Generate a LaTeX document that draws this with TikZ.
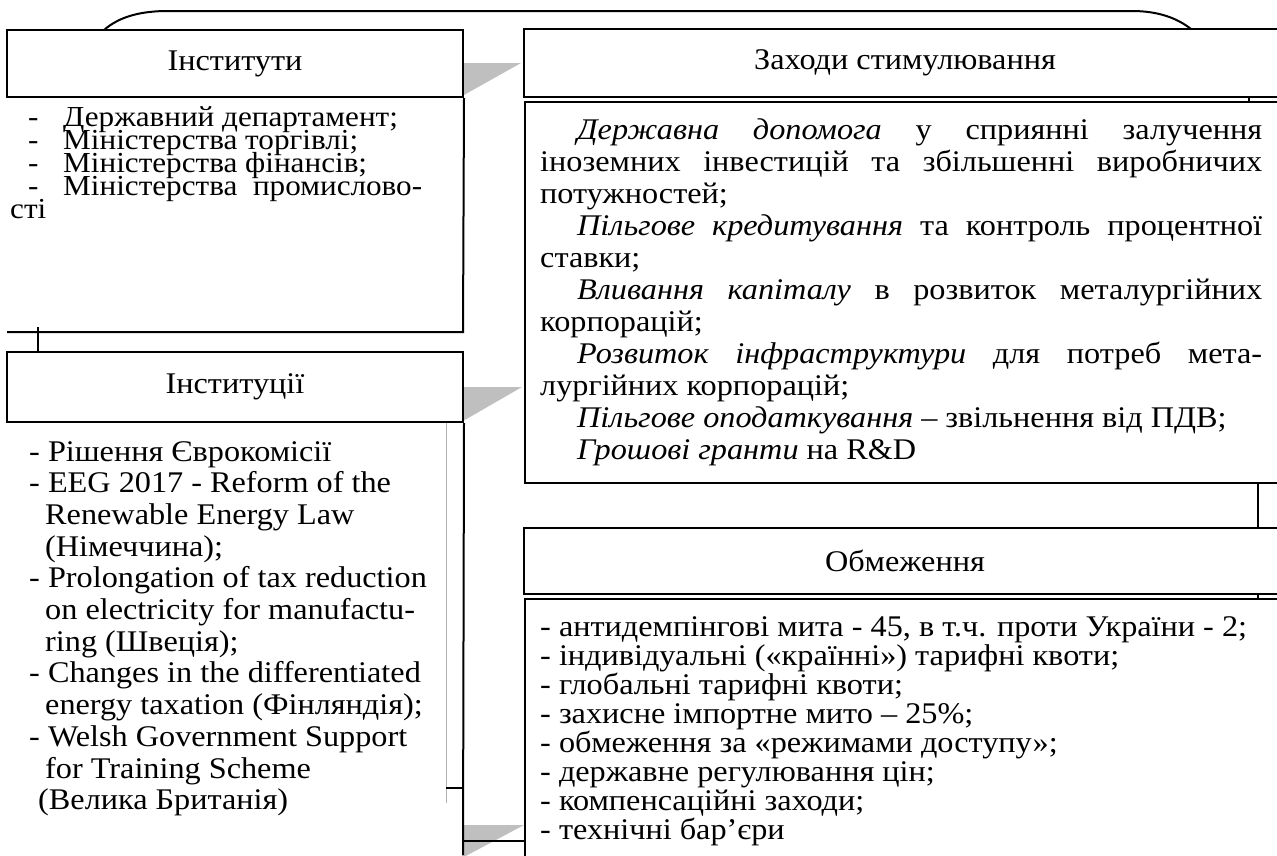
\documentclass[tikz,border=0pt]{standalone}
\usepackage{fontspec}
\setmainfont{Liberation Serif}[FakeStretch=1.075]
\newcommand\myfs{\fontsize{30}{32}\selectfont}
\newcommand\myfss{\fontsize{29}{30}\selectfont}
\begin{document}
\begin{tikzpicture}[x=1pt,y=-1pt,
  box/.style={draw, line width=2pt, fill=white, inner sep=0pt, font=\myfs},
  edge/.style={line width=2pt},
  thin/.style={line width=1.5pt},
  tri/.style={fill=black!25, draw=none},
  txt/.style={anchor=base west, inner sep=0pt, font=\myfs},
  txs/.style={anchor=base west, inner sep=0pt, font=\myfss}]
\useasboundingbox (0,0) rectangle (1277,855);
\clip (0,0) rectangle (1277,855);

% grey triangles
\fill[tri] (464,63) -- (521,63) -- (464,95) -- cycle;
\fill[tri] (463,387) -- (522,387) -- (463,421) -- cycle;
\fill[tri] (462,825) -- (524,825) -- (462,858) -- cycle;

% top arc
\draw[edge] (104,30) .. controls (120,16) and (142,11) .. (168,11) -- (1132,11) .. controls (1158,11) and (1177,18) .. (1191,29);

% left column
\node[box, minimum width=456pt, minimum height=67pt] (h1) at (235,63.5) {Інститути};
\coordinate (l1a) at (463,332);
\coordinate (l1b) at (7,332);
\draw[edge] (h1.south east) -- (l1a) -- (l1b);
\coordinate (t1) at (38,327);
\node[box, minimum width=456pt, minimum height=70pt] (h2) at (235,387) {Інституції};
\draw[edge] (t1) -- (t1 |- h2.north);
\coordinate (g1) at (446,803);
\draw[black!30, line width=1pt] (h2.south east -| g1) -- (g1);
\coordinate (b1) at (463,855);
\draw[edge] (h2.south east) -- (b1);
\draw[edge] (446,788) -- (463,788);
\draw[edge] (462,841) -- (524,841);

% right column
\node[box, minimum width=766pt, minimum height=68pt] (h3) at (907,63) {};
\node[font=\myfs] (h3t) at (905,63) {Заходи стимулювання};
\node[draw, line width=2pt, minimum width=765pt, minimum height=381pt, inner sep=0pt] (b3) at (907.5,292.5) {};
\draw[thin] (1249,97) -- (1249,102);
\coordinate (c3) at (1258,483);
\node[box, minimum width=766pt, minimum height=66pt] (h4) at (907,561) {};
\node[font=\myfs] (h4t) at (905,561) {Обмеження};
\draw[edge] (c3) -- (c3 |- h4.north);
\node[draw, line width=2pt, minimum width=765pt, minimum height=300pt, inner sep=0pt] (b4) at (907.5,749) {};
\draw[thin] (1258,594) -- (1258,599);

% list 1
\node[txs] (d1) at (28,126) {-};
\node[txs] (a1) at (63,126) {Державний департамент;};
\node[txs] (d2) at (28,149) {-};
\node[txs] (a2) at (63,149) {Міністерства торгівлі;};
\node[txs] (d3) at (28,172) {-};
\node[txs] (a3) at (63,172) {Міністерства фінансів;};
\node[txs] (d4) at (28,195) {-};
\node[txs] (a4) at (63,195) {\makebox[359pt][s]{Міністерства промислово-}};
\node[txs] (a5) at (10,218) {сті};

% list 2
\node[txt] (e1) at (29,461) {- Рішення Єврокомісії};
\node[txt] (e2) at (29,492.7) {- EEG 2017 - Reform of the};
\node[txt] (e3) at (45,524.4) {Renewable Energy Law};
\node[txt] (e4) at (45,556.1) {(Німеччина);};
\node[txt] (e5) at (29,587.8) {- Prolongation of tax reduction};
\node[txt] (e6) at (45,619.5) {on electricity for manufactu-};
\node[txt] (e7) at (45,651.2) {ring (Швеція);};
\node[txt] (e8) at (29,682.9) {- Changes in the differentiated};
\node[txt] (e9) at (45,714.6) {energy taxation (Фінляндія);};
\node[txt] (e10) at (29,746.3) {- Welsh Government Support};
\node[txt] (e11) at (45,778) {for Training Scheme};
\node[txt] (e12) at (38,809.7) {(Велика Британія)};

% list 3
\node[txt] (z1) at (540,139) {\makebox[722pt][s]{\hspace{37pt}\textit{Державна допомога} у сприянні залучення}};
\node[txt] (z2) at (540,171) {\makebox[722pt][s]{іноземних інвестицій та збільшенні виробничих}};
\node[txt] (z3) at (540,203) {потужностей;};
\node[txt] (z4) at (540,235) {\makebox[722pt][s]{\hspace{37pt}\textit{Пільгове кредитування} та контроль процентної}};
\node[txt] (z5) at (540,267) {ставки;};
\node[txt] (z6) at (540,299) {\makebox[722pt][s]{\hspace{37pt}\textit{Вливання капіталу} в розвиток металургійних}};
\node[txt] (z7) at (540,331) {корпорацій;};
\node[txt] (z8) at (540,363) {\makebox[722pt][s]{\hspace{37pt}\textit{Розвиток інфраструктури} для потреб мета-}};
\node[txt] (z9) at (540,395) {лургійних корпорацій;};
\node[txt] (z10) at (577,427) {\textit{Пільгове оподаткування} – звільнення від ПДВ;};
\node[txt] (z11) at (577,459) {\textit{Грошові гранти} на R\&D};

% list 4
\node[txt] (o1) at (540,636) {- антидемпінгові мита - 45, в т.ч. проти України - 2;};
\node[txt] (o2) at (540,665) {- індивідуальні («країнні») тарифні квоти;};
\node[txt] (o3) at (540,694) {- глобальні тарифні квоти;};
\node[txt] (o4) at (540,723) {- захисне імпортне мито – 25\%;};
\node[txt] (o5) at (540,752) {- обмеження за «режимами доступу»;};
\node[txt] (o6) at (540,781) {- державне регулювання цін;};
\node[txt] (o7) at (540,810) {- компенсаційні заходи;};
\node[txt] (o8) at (540,839) {- технічні бар’єри};
\end{tikzpicture}
\end{document}
